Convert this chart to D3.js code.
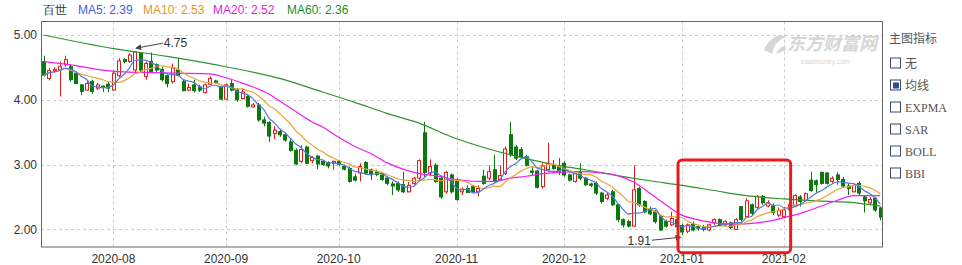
<!DOCTYPE html>
<html lang="zh">
  <head>
    <meta charset="utf-8">
    <title>百世 日K</title>
    <script src="https://d3js.org/d3.v7.min.js"></script>
    <style>
      body {
        margin: 0;
        background: #fff;
      }

      svg {
        display: block;
        font-family: "Liberation Sans", Arial, sans-serif;
      }

      .grid line {
        stroke: #cccccc;
        stroke-dasharray: 3, 3;
      }

      .axis text {
        font-size: 12px;
        fill: #333;
      }

      .axis path,
      .axis line {
        display: none;
      }

      .frame {
        fill: none;
        stroke: #666;
      }

      .panel text {
        font-size: 12px;
        fill: #555;
      }
    </style>
  </head>
  <body>
    <script>
      // trading days shown (mid Jul 2020 -> end Feb 2021)
      const dates = [
        '2020-07-15','2020-07-16','2020-07-17','2020-07-20','2020-07-21','2020-07-22','2020-07-23','2020-07-24','2020-07-27','2020-07-28','2020-07-29','2020-07-30','2020-07-31',
        '2020-08-03','2020-08-04','2020-08-05','2020-08-06','2020-08-07','2020-08-10','2020-08-11','2020-08-12','2020-08-13','2020-08-14','2020-08-17','2020-08-18','2020-08-19','2020-08-20','2020-08-21','2020-08-24','2020-08-25','2020-08-26','2020-08-27','2020-08-28','2020-08-31',
        '2020-09-01','2020-09-02','2020-09-03','2020-09-04','2020-09-08','2020-09-09','2020-09-10','2020-09-11','2020-09-14','2020-09-15','2020-09-16','2020-09-17','2020-09-18','2020-09-21','2020-09-22','2020-09-23','2020-09-24','2020-09-25','2020-09-28','2020-09-29','2020-09-30',
        '2020-10-01','2020-10-02','2020-10-05','2020-10-06','2020-10-07','2020-10-08','2020-10-09','2020-10-12','2020-10-13','2020-10-14','2020-10-15','2020-10-16','2020-10-19','2020-10-20','2020-10-21','2020-10-22','2020-10-23','2020-10-26','2020-10-27','2020-10-28','2020-10-29','2020-10-30',
        '2020-11-02','2020-11-03','2020-11-04','2020-11-05','2020-11-06','2020-11-09','2020-11-10','2020-11-11','2020-11-12','2020-11-13','2020-11-16','2020-11-17','2020-11-18','2020-11-19','2020-11-20','2020-11-23','2020-11-24','2020-11-25','2020-11-27','2020-11-30',
        '2020-12-01','2020-12-02','2020-12-03','2020-12-04','2020-12-07','2020-12-08','2020-12-09','2020-12-10','2020-12-11','2020-12-14','2020-12-15','2020-12-16','2020-12-17','2020-12-18','2020-12-21','2020-12-22','2020-12-23','2020-12-24','2020-12-28','2020-12-29','2020-12-30','2020-12-31',
        '2021-01-04','2021-01-05','2021-01-06','2021-01-07','2021-01-08','2021-01-11','2021-01-12','2021-01-13','2021-01-14','2021-01-15','2021-01-19','2021-01-20','2021-01-21','2021-01-22','2021-01-25','2021-01-26','2021-01-27','2021-01-28','2021-01-29',
        '2021-02-01','2021-02-02','2021-02-03','2021-02-04','2021-02-05','2021-02-08','2021-02-09','2021-02-10','2021-02-11','2021-02-12','2021-02-16','2021-02-17','2021-02-18','2021-02-19','2021-02-22','2021-02-23','2021-02-24','2021-02-25','2021-02-26'
      ];

      const opens = [
        4.59,4.33,4.45,4.46,4.54,4.51,4.41,4.23,4.15,4.28,4.18,4.21,4.24,
        4.15,4.37,4.62,4.59,4.46,4.72,4.36,4.59,4.54,4.47,4.37,4.28,4.46,4.28,4.15,4.23,4.20,4.11,4.24,4.29,4.20,
        4.01,4.25,4.15,4.02,4.05,3.89,3.92,3.69,3.65,3.48,3.51,3.46,3.35,3.22,3.05,3.27,3.06,3.13,3.05,3.03,3.02,
        3.05,2.97,2.94,2.81,2.87,3.03,2.92,2.89,2.84,2.79,2.70,2.71,2.69,2.58,2.71,2.79,3.49,2.87,2.99,2.79,2.58,2.84,
        2.76,2.58,2.63,2.66,2.58,2.82,2.79,2.92,2.77,2.86,3.46,3.27,3.23,3.12,2.90,2.90,2.66,2.92,3.00,2.97,
        3.02,2.84,2.74,2.89,2.79,2.70,2.71,2.56,2.48,2.58,2.38,2.15,2.12,2.05,2.63,2.43,2.31,2.27,2.20,2.12,2.07,2.15,
        2.06,1.97,2.08,2.04,2.03,1.99,2.10,2.15,2.07,2.10,2.00,2.35,2.20,2.38,2.34,2.51,2.36,2.36,2.22,
        2.20,2.30,2.36,2.50,2.45,2.76,2.75,2.88,2.87,2.74,2.84,2.77,2.67,2.58,2.71,2.50,2.41,2.48,2.33
      ];
      const closes = [
        4.38,4.45,4.47,4.51,4.62,4.31,4.25,4.13,4.25,4.13,4.23,4.19,4.18,
        4.41,4.60,4.59,4.69,4.74,4.46,4.56,4.43,4.46,4.31,4.25,4.49,4.38,4.14,4.19,4.14,4.15,4.23,4.33,4.27,4.01,
        4.23,4.15,4.00,4.12,3.90,3.92,3.69,3.64,3.44,3.53,3.46,3.38,3.22,3.01,3.23,3.02,3.11,3.01,3.00,2.98,3.05,
        3.00,2.93,2.74,2.76,2.97,2.87,2.86,2.85,2.77,2.71,2.67,2.61,2.58,2.68,2.79,3.06,2.88,2.97,2.74,2.50,2.88,2.58,
        2.46,2.62,2.57,2.58,2.63,2.71,2.89,2.74,2.83,3.24,3.15,3.10,3.12,2.99,2.88,2.65,2.98,3.02,2.94,2.89,
        2.84,2.76,2.87,2.79,2.69,2.68,2.56,2.43,2.53,2.38,2.15,2.07,2.05,2.61,2.38,2.27,2.24,2.12,1.99,2.05,2.17,2.04,
        1.96,2.07,1.99,2.02,2.00,2.07,2.15,2.07,2.12,2.03,2.15,2.15,2.44,2.25,2.51,2.41,2.41,2.26,2.29,
        2.30,2.38,2.52,2.43,2.55,2.60,2.69,2.71,2.71,2.79,2.77,2.67,2.63,2.68,2.56,2.44,2.46,2.30,2.19
      ];
      const highs = [
        4.68,4.49,4.50,4.59,4.68,4.55,4.43,4.24,4.30,4.31,4.26,4.22,4.28,
        4.45,4.64,4.64,4.72,4.75,4.73,4.59,4.73,4.56,4.51,4.39,4.56,4.64,4.31,4.25,4.31,4.23,4.25,4.36,4.31,4.21,
        4.25,4.32,4.18,4.18,4.07,3.95,3.95,3.74,3.67,3.59,3.55,3.49,3.39,3.25,3.30,3.29,3.13,3.15,3.06,3.05,3.06,
        3.07,3.00,2.97,2.86,3.02,3.05,2.94,2.92,2.87,2.82,2.74,2.74,2.89,2.73,2.81,3.08,3.66,3.08,3.02,2.82,2.90,2.86,
        2.79,2.65,2.68,2.68,2.68,2.92,2.99,3.15,2.99,3.28,3.66,3.30,3.27,3.15,2.97,2.92,3.02,3.34,3.07,3.10,
        3.05,2.86,2.89,3.02,2.81,2.72,2.74,2.58,2.56,2.61,2.40,2.17,2.15,2.99,2.66,2.45,2.35,2.30,2.22,2.15,2.27,2.19,
        2.09,2.09,2.12,2.07,2.07,2.09,2.17,2.17,2.14,2.12,2.17,2.36,2.48,2.40,2.53,2.53,2.45,2.40,2.34,
        2.35,2.42,2.54,2.53,2.57,2.89,2.77,2.89,2.88,2.82,2.88,2.81,2.71,2.71,2.74,2.53,2.50,2.50,2.35
      ];
      const lows = [
        4.36,4.30,4.42,4.05,4.51,4.28,4.24,4.07,4.14,4.09,4.15,4.12,4.12,
        4.14,4.35,4.56,4.57,4.43,4.41,4.31,4.41,4.43,4.28,4.19,4.25,4.36,4.13,4.13,4.11,4.12,4.10,4.23,4.25,4.00,
        4.00,4.13,3.97,4.00,3.88,3.88,3.66,3.59,3.35,3.39,3.43,3.35,3.20,2.99,3.02,3.01,3.02,2.93,2.98,2.94,2.92,
        2.98,2.91,2.72,2.74,2.74,2.84,2.76,2.82,2.75,2.68,2.53,2.58,2.56,2.57,2.69,2.76,2.81,2.82,2.72,2.47,2.55,2.55,
        2.44,2.53,2.56,2.56,2.51,2.69,2.76,2.72,2.76,2.84,3.12,3.07,3.10,2.97,2.84,2.63,2.63,2.89,2.92,2.84,
        2.81,2.74,2.72,2.76,2.67,2.65,2.53,2.40,2.45,2.36,2.11,2.03,2.03,2.04,2.35,2.25,2.22,2.09,1.98,2.03,2.05,2.03,
        1.91,1.94,1.97,1.98,1.97,1.97,2.07,2.05,2.05,2.00,1.99,2.12,2.19,2.22,2.32,2.38,2.34,2.22,2.19,
        2.17,2.28,2.34,2.35,2.43,2.58,2.56,2.69,2.69,2.71,2.69,2.65,2.53,2.57,2.53,2.26,2.39,2.27,2.14
      ];

      // MA20 / MA60 at a few candles (index into dates)
      const ma20Idx = [0,5,10,15,20,25,31,34,38,42,44,47,50,52,55,58,61,64,67,70,73,77,81,84,87,90,93,96,100,104,107,110,113,116,119,122,125,129,133,136,139,142,145,148,151,154,156];
      const ma20Val = [4.59,4.54,4.47,4.43,4.42,4.41,4.40,4.34,4.23,4.09,3.98,3.82,3.66,3.58,3.42,3.28,3.17,3.03,2.93,2.86,2.83,2.77,2.74,2.74,2.79,2.82,2.86,2.88,2.89,2.87,2.83,2.73,2.56,2.38,2.22,2.15,2.10,2.08,2.10,2.14,2.20,2.27,2.36,2.45,2.52,2.52,2.52];
      const ma60Idx = [0,13,23,34,44,52,58,64,70,76,83,89,95,101,107,113,119,125,131,138,144,150,156];
      const ma60Val = [5.00,4.79,4.67,4.51,4.33,4.12,3.96,3.79,3.64,3.43,3.24,3.11,3.00,2.92,2.83,2.75,2.68,2.60,2.52,2.47,2.44,2.42,2.36];

      const yTicks = [2, 3, 4, 5];
      const monthTicks = ['2020-08', '2020-09', '2020-10', '2020-11', '2020-12', '2021-01', '2021-02'];
      const indicators = ['无', '均线', 'EXPMA', 'SAR', 'BOLL', 'BBI'];

      const legend = [
        {text: '百世', color: '#333'},
        {text: 'MA5: 2.39', color: '#3d5fe0'},
        {text: 'MA10: 2.53', color: '#e09a1c'},
        {text: 'MA20: 2.52', color: '#e01ee0'},
        {text: 'MA60: 2.36', color: '#1f8a1f'}
      ];

      const w = 962;
      const h = 265;
      const padL = 41, padR = 883, padT = 21.5, padB = 247;
      const upColor = '#e3191c';
      const downColor = '#0b780b';

      const xScale = d3.scaleBand()
                       .domain(dates)
                       .range([padL, padR])
                       .paddingInner(0.4)
                       .paddingOuter(0.2);
      const bw = xScale.bandwidth();
      const cx = d => xScale(d) + bw / 2;

      const yScale = d3.scaleLinear()
                       .domain([1.728, 5.208])
                       .range([padB, padT]);

      const svg = d3.select('body')
                    .append('svg')
                    .attr('width', w)
                    .attr('height', h);

      // watermark
      const wm = svg.append('g').attr('fill', '#d6d6d6');
      wm.append('path')
        .attr('d', 'M764,50 C770,36 782,32 786,38 C780,38 774,44 772,54 Z M776,54 C780,46 786,44 786,50 Z');
      wm.append('text')
        .attr('x', 787).attr('y', 50)
        .style('font-size', '18px').style('font-weight', 'bold').style('font-style', 'italic')
        .style('font-family', '"Noto Sans CJK SC", sans-serif')
        .text('东方财富网');
      wm.append('text')
        .attr('x', 801).attr('y', 64)
        .style('font-size', '7px')
        .text('eastmoney.com');

      // grid
      const firstOfMonth = monthTicks.map(m => dates.find(d => d.startsWith(m)));
      const grid = svg.append('g').attr('class', 'grid');
      grid.selectAll('.hg')
          .data(yTicks)
          .enter()
          .append('line')
          .attr('x1', padL).attr('x2', padR)
          .attr('y1', d => Math.round(yScale(d)) + 0.5)
          .attr('y2', d => Math.round(yScale(d)) + 0.5);
      grid.selectAll('.vg')
          .data(firstOfMonth)
          .enter()
          .append('line')
          .attr('x1', d => Math.round(cx(d)) + 0.5)
          .attr('x2', d => Math.round(cx(d)) + 0.5)
          .attr('y1', padT).attr('y2', padB);

      // axes
      svg.append('g')
         .attr('class', 'axis')
         .attr('transform', `translate(${padL}, 0)`)
         .call(d3.axisLeft(yScale).tickValues(yTicks).tickFormat(d3.format('.2f')).tickSize(0).tickPadding(4));

      svg.append('g')
         .attr('class', 'axis')
         .attr('transform', `translate(0, ${padB})`)
         .call(d3.axisBottom(xScale).tickValues(firstOfMonth).tickFormat(d => d.slice(0, 7)).tickSize(0).tickPadding(7));

      // candles
      const idx = d3.range(dates.length);
      const candles = svg.append('g');
      candles.selectAll('line')
             .data(idx)
             .enter()
             .append('line')
             .attr('x1', i => Math.round(cx(dates[i])) + 0.5)
             .attr('x2', i => Math.round(cx(dates[i])) + 0.5)
             .attr('y1', i => yScale(highs[i]))
             .attr('y2', i => yScale(lows[i]))
             .attr('stroke', i => closes[i] >= opens[i] ? upColor : downColor);
      candles.selectAll('rect')
             .data(idx)
             .enter()
             .append('rect')
             .attr('x', i => Math.round(cx(dates[i]) - bw / 2) + 0.5)
             .attr('width', Math.round(bw))
             .attr('y', i => yScale(Math.max(opens[i], closes[i])))
             .attr('height', i => Math.max(1, yScale(Math.min(opens[i], closes[i])) - yScale(Math.max(opens[i], closes[i]))))
             .attr('fill', i => closes[i] >= opens[i] ? '#fff' : downColor)
             .attr('stroke', i => closes[i] >= opens[i] ? upColor : downColor);

      // moving averages
      const movingAvg = n => closes.map((c, i) => d3.mean(closes.slice(Math.max(0, i - n + 1), i + 1)));
      const ma5 = movingAvg(5);
      const ma10 = movingAvg(10);

      const line = d3.line()
                     .x(p => cx(dates[p[0]]))
                     .y(p => yScale(p[1]))
                     .curve(d3.curveMonotoneX);

      const maLines = [
        {pts: ma60Idx.map((d, k) => [d, ma60Val[k]]), color: '#2f922f'},
        {pts: ma20Idx.map((d, k) => [d, ma20Val[k]]), color: '#f21df2'},
        {pts: idx.map(i => [i, ma10[i]]), color: '#eba43a'},
        {pts: idx.map(i => [i, ma5[i]]), color: '#5478e4'}
      ];
      svg.append('g')
         .selectAll('path')
         .data(maLines)
         .enter()
         .append('path')
         .attr('d', d => line(d.pts))
         .attr('fill', 'none')
         .attr('stroke', d => d.color)
         .attr('stroke-width', 1.2);

      // frame
      svg.append('rect')
         .attr('class', 'frame')
         .attr('x', padL + 0.5).attr('y', padT)
         .attr('width', padR - padL - 1).attr('height', padB - padT);

      // high / low annotations
      svg.append('defs')
         .append('marker')
         .attr('id', 'arrow')
         .attr('viewBox', '0 0 10 10')
         .attr('refX', 9).attr('refY', 5)
         .attr('markerWidth', 6).attr('markerHeight', 6)
         .attr('orient', 'auto')
         .append('path')
         .attr('d', 'M0,0 L10,5 L0,10 Z')
         .attr('fill', '#444');

      const hiI = highs.indexOf(d3.max(highs.slice(0, 60)));
      const loI = lows.indexOf(d3.min(lows));
      const hx = cx(dates[hiI]), hy = yScale(highs[hiI]) - 3;
      const lx = cx(dates[loI]), ly = yScale(lows[loI]) + 2;

      svg.append('line')
         .attr('x1', hx + 28).attr('y1', hy - 5)
         .attr('x2', hx + 1).attr('y2', hy)
         .attr('stroke', '#444').attr('marker-end', 'url(#arrow)');
      svg.append('text')
         .attr('x', hx + 29).attr('y', hy - 1)
         .style('font-size', '12px').attr('fill', '#333')
         .text(highs[hiI].toFixed(2));

      svg.append('line')
         .attr('x1', lx - 30).attr('y1', ly + 3)
         .attr('x2', lx - 1).attr('y2', ly)
         .attr('stroke', '#444').attr('marker-end', 'url(#arrow)');
      svg.append('text')
         .attr('x', lx - 31).attr('y', ly + 8)
         .attr('text-anchor', 'end')
         .style('font-size', '12px').attr('fill', '#333')
         .text(lows[loI].toFixed(2));

      // highlight box
      svg.append('rect')
         .attr('x', cx(dates[118]) + 1.5)
         .attr('y', yScale(3.07))
         .attr('width', cx(dates[139]) - cx(dates[118]))
         .attr('height', yScale(1.64) - yScale(3.07))
         .attr('rx', 4)
         .attr('fill', 'none')
         .attr('stroke', '#ea1a1f')
         .attr('stroke-width', 3);

      // legend
      const legendX = [43, 78, 143, 213, 287];
      svg.append('g')
         .selectAll('text')
         .data(legend)
         .enter()
         .append('text')
         .attr('x', (d, k) => legendX[k])
         .attr('y', 14)
         .style('font-size', '12px')
         .attr('fill', d => d.color)
         .text(d => d.text);

      // indicator panel
      const panel = svg.append('g').attr('class', 'panel');
      panel.append('text')
           .attr('x', 889).attr('y', 43)
           .style('font-family', '"Noto Sans CJK SC", sans-serif')
           .text('主图指标');
      const item = panel.selectAll('.item')
                        .data(indicators)
                        .enter()
                        .append('g')
                        .attr('transform', (d, k) => `translate(890, ${57.5 + k * 22})`);
      item.append('rect')
          .attr('x', 0.5).attr('y', 0.5)
          .attr('width', 10).attr('height', 10)
          .attr('fill', '#fff')
          .attr('stroke', '#3b4a6b');
      item.filter(d => d === '均线')
          .append('rect')
          .attr('x', 3).attr('y', 3)
          .attr('width', 6).attr('height', 6)
          .attr('fill', '#2e4c8e');
      item.append('text')
          .attr('x', 15).attr('y', 10)
          .style('font-family', d => /[A-Z]/.test(d) ? '"Liberation Serif", serif' : '"Noto Sans CJK SC", sans-serif')
          .text(d => d);
    </script>
  </body>
</html>
